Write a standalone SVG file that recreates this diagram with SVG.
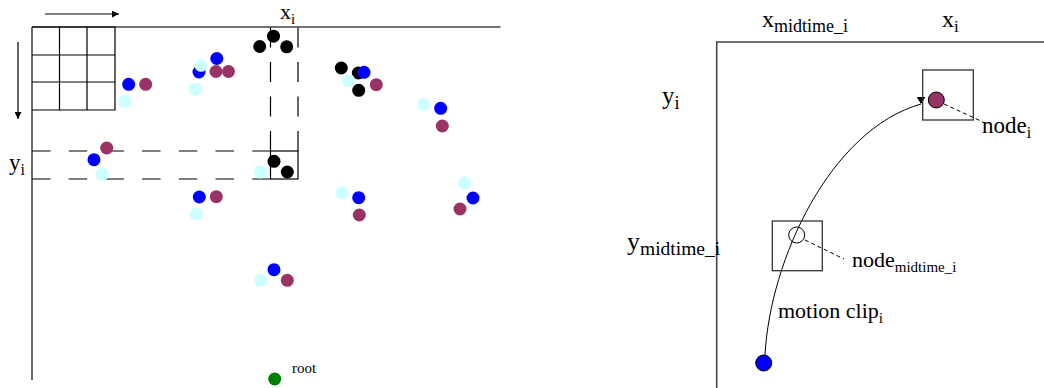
<svg xmlns="http://www.w3.org/2000/svg" width="1044" height="388" viewBox="0 0 1044 388">
  <defs>
    <marker id="arrow" viewBox="0 0 10 10" refX="10" refY="5" markerWidth="7" markerHeight="7" orient="auto" markerUnits="userSpaceOnUse">
      <path d="M0,0 L10,5 L0,10 Z" fill="#000"/>
    </marker>
    <marker id="tipDown" viewBox="0 0 10 8" refX="5" refY="8" markerWidth="9" markerHeight="7" orient="0" markerUnits="userSpaceOnUse">
      <path d="M0,0 L10,0 L5,8 Z" fill="#000"/>
    </marker>
    <style>
      .axis { stroke: #444; stroke-width: 1.6; fill: none; }
      .grid { stroke: #000; stroke-width: 1.2; fill: none; }
      .dashH { stroke: #000; stroke-width: 1.2; fill: none; stroke-dasharray: 18.5 18.2; }
      .dashV { stroke: #000; stroke-width: 1.2; fill: none; stroke-dasharray: 20 14.5; }
      .box { stroke: #333; stroke-width: 1.3; fill: none; }
      .lead { stroke: #000; stroke-width: 1; fill: none; stroke-dasharray: 4 3; }
      .curve { stroke: #000; stroke-width: 1; fill: none; }
      .lbl { font-family: "Liberation Serif", "Times New Roman", serif; fill: #000; }
      .blue { fill: #0000ff; }
      .purple { fill: #993366; }
      .cyan { fill: #ccffff; }
      .black { fill: #000; }
      .green { fill: #008000; }
    </style>
  </defs>

  <rect width="1044" height="388" fill="#fff"/>

  <!-- left panel: screen axes, scan grid and row/column bands -->
  <g id="screen">
    <line class="axis" x1="32" y1="27" x2="500.5" y2="27"/>
    <line class="axis" x1="32" y1="27" x2="32" y2="380"/>
    <!-- 3x3 scan grid -->
    <path class="grid" d="M32,27 H115 V110 H32 M59.5,27 V110 M87,27 V110 M32,55 H115 M32,82 H115"/>
    <!-- row band y_i -->
    <line class="dashH" x1="32" y1="151" x2="270.5" y2="151"/>
    <line class="dashH" x1="32" y1="179" x2="270.5" y2="179"/>
    <!-- column band x_i (dashes laid from the cell upward) -->
    <line class="dashV" x1="270.5" y1="151" x2="270.5" y2="27"/>
    <line class="dashV" x1="298" y1="151" x2="298" y2="27"/>
    <!-- cell (x_i, y_i) -->
    <rect class="grid" x="270.5" y="151" width="27.5" height="28"/>
  </g>

  <g id="scan-arrows">
    <line class="grid" x1="45" y1="14" x2="119" y2="14" stroke-width="1" marker-end="url(#arrow)"/>
    <line class="grid" x1="18" y1="42" x2="18" y2="119" stroke-width="1" marker-end="url(#arrow)"/>
  </g>

  <g id="left-labels" class="lbl">
    <text x="280" y="19" font-size="22">x<tspan font-size="15" dy="5">i</tspan></text>
    <text x="9" y="170" font-size="23">y<tspan font-size="16" dy="5">i</tspan></text>
    <text x="292" y="373" font-size="15">root</text>
  </g>

  <!-- pose dots -->
  <g id="dots">
    <g id="cluster-a">
      <circle class="blue" cx="128.7" cy="84.3" r="6.5"/>
      <circle class="purple" cx="145.7" cy="84.3" r="6.5"/>
      <circle class="cyan" cx="124.7" cy="101.3" r="6.5"/>
    </g>
    <g id="cluster-b">
      <circle class="blue" cx="199" cy="72" r="6.5"/>
      <circle class="cyan" cx="201" cy="65.3" r="6.5"/>
      <circle class="purple" cx="216" cy="71.5" r="6.5"/>
      <circle class="purple" cx="228.5" cy="71.5" r="6.5"/>
      <circle class="blue" cx="216.8" cy="58.5" r="6.5"/>
      <circle class="cyan" cx="195.3" cy="89.2" r="6.5"/>
    </g>
    <g id="cluster-c">
      <circle class="black" cx="273.5" cy="36.2" r="6.5"/>
      <circle class="black" cx="259.7" cy="46.5" r="6.5"/>
      <circle class="black" cx="286.7" cy="46.8" r="6.5"/>
    </g>
    <g id="cluster-d">
      <circle class="black" cx="341.3" cy="68" r="6.5"/>
      <circle class="black" cx="358.3" cy="73" r="6.5"/>
      <circle class="black" cx="358.7" cy="90.3" r="6.5"/>
      <circle class="cyan" cx="348.7" cy="80.7" r="6.5"/>
      <circle class="blue" cx="364" cy="72.3" r="6.5"/>
      <circle class="purple" cx="376.3" cy="84.7" r="6.5"/>
    </g>
    <g id="cluster-e">
      <circle class="cyan" cx="423.7" cy="104.3" r="6.5"/>
      <circle class="blue" cx="440.7" cy="108.3" r="6.5"/>
      <circle class="purple" cx="442.3" cy="126" r="6.5"/>
    </g>
    <g id="cluster-f">
      <circle class="purple" cx="106.7" cy="148" r="6.5"/>
      <circle class="blue" cx="94" cy="159.7" r="6.5"/>
      <circle class="cyan" cx="102.3" cy="174.3" r="6.5"/>
    </g>
    <g id="cluster-g">
      <circle class="black" cx="274" cy="161.3" r="6.5"/>
      <circle class="black" cx="287.3" cy="172" r="6.5"/>
      <circle class="cyan" cx="260.7" cy="172" r="6.5"/>
    </g>
    <g id="cluster-h">
      <circle class="blue" cx="199.3" cy="197" r="6.5"/>
      <circle class="purple" cx="216.3" cy="196.7" r="6.5"/>
      <circle class="cyan" cx="196.3" cy="214" r="6.5"/>
    </g>
    <g id="cluster-i">
      <circle class="cyan" cx="342" cy="193" r="6.5"/>
      <circle class="blue" cx="358.7" cy="197.7" r="6.5"/>
      <circle class="purple" cx="359.3" cy="215" r="6.5"/>
    </g>
    <g id="cluster-j">
      <circle class="cyan" cx="464.7" cy="182.7" r="6.5"/>
      <circle class="blue" cx="473" cy="198" r="6.5"/>
      <circle class="purple" cx="460" cy="209" r="6.5"/>
    </g>
    <g id="cluster-k">
      <circle class="blue" cx="274" cy="269.7" r="6.5"/>
      <circle class="cyan" cx="260.7" cy="280.3" r="6.5"/>
      <circle class="purple" cx="287.3" cy="280.3" r="6.5"/>
    </g>
    <g id="root">
      <circle class="green" cx="274.7" cy="379" r="6.5"/>
    </g>
  </g>

  <!-- right panel: motion clip between two nodes -->
  <g id="frame">
    <path class="axis" stroke="#000" d="M1044,42 H716.7 V388"/>
  </g>

  <g id="right-labels" class="lbl">
    <text x="762" y="27" font-size="24">x<tspan font-size="18" dy="5">midtime_i</tspan></text>
    <text x="942" y="27" font-size="24">x<tspan font-size="17" dy="5">i</tspan></text>
    <text x="662" y="104" font-size="25">y<tspan font-size="18" dy="5">i</tspan></text>
    <text x="627" y="250" font-size="26">y<tspan font-size="19.5" dy="5">midtime_i</tspan></text>
  </g>

  <g id="connectors">
    <path class="curve" d="M765,355 C770,260 830,130 921,104" marker-end="url(#tipDown)"/>
    <line class="lead" x1="944" y1="104" x2="983" y2="122"/>
    <line class="lead" x1="805" y1="240" x2="844" y2="259"/>
  </g>

  <g id="node-i">
    <rect class="box" x="922.7" y="70" width="50.6" height="50"/>
    <circle cx="936.3" cy="100" r="8" fill="#993366" stroke="#000" stroke-width="1"/>
    <text class="lbl" x="982" y="133" font-size="23">node<tspan font-size="16" dy="5">i</tspan></text>
  </g>

  <g id="node-midtime">
    <rect class="box" x="772.3" y="221" width="50" height="49.7"/>
    <circle cx="796.7" cy="235" r="8" fill="none" stroke="#000" stroke-width="1"/>
    <text class="lbl" x="852" y="267" font-size="22">node<tspan font-size="15" dy="5">midtime_i</tspan></text>
  </g>

  <g id="clip-start">
    <circle cx="763.7" cy="363" r="8" fill="#0000ff" stroke="#000" stroke-width="1"/>
  </g>

  <g id="clip-label">
    <text class="lbl" x="778" y="317.5" font-size="22">motion clip<tspan font-size="15" dy="5">i</tspan></text>
  </g>
</svg>
